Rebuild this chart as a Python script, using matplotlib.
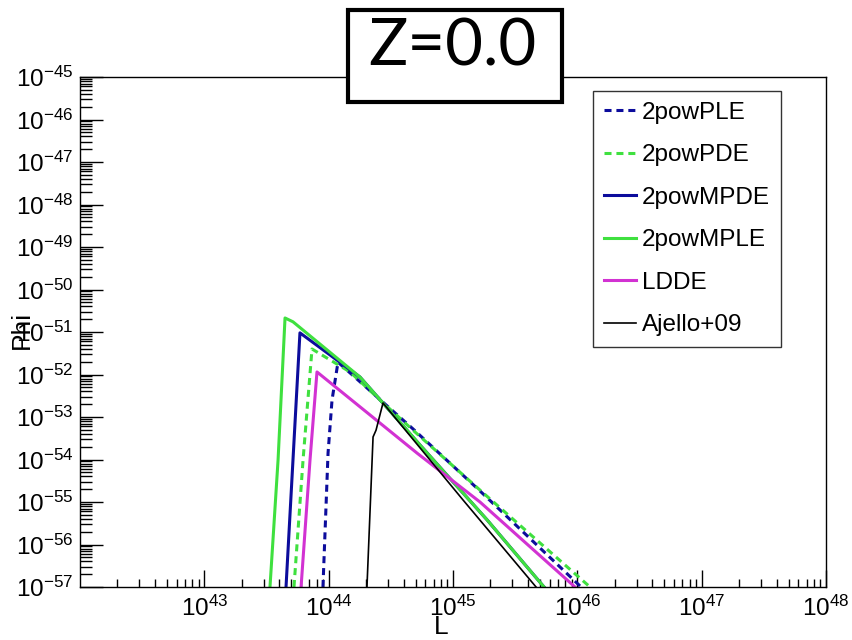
"""Phi vs L at Z=0.0 for the LF models"""
import numpy as np
import matplotlib
matplotlib.use("Agg")
import matplotlib.pyplot as plt
from matplotlib.patches import Rectangle
from matplotlib.ticker import LogLocator, NullFormatter

plt.rcParams['font.family'] = ['Liberation Sans', 'DejaVu Sans']
plt.rcParams['mathtext.fontset'] = 'custom'
plt.rcParams['mathtext.rm'] = 'Liberation Sans'
plt.rcParams['mathtext.it'] = 'Liberation Sans'

# log10 values
logL_ple = [43.954, 43.995, 44.027, 44.075, 44.678, 45.217, 46.030]
logPhi_ple = [-57.0, -53.85, -52.60, -51.71, -53.28, -54.74, -57.0]

logL_pde = [43.721, 43.794, 43.866, 44.172, 44.413, 44.678, 45.217, 46.102]
logPhi_pde = [-57.0, -54.01, -51.40, -51.94, -52.60, -53.31, -54.72, -57.0]

logL_mpde = [43.657, 43.713, 43.769, 44.252, 44.735, 45.274, 45.732]
logPhi_mpde = [-57.0, -54.01, -51.02, -52.06, -53.66, -55.42, -57.0]

logL_mple = [43.528, 43.593, 43.649, 43.713, 44.252, 44.735, 45.274, 45.732]
logPhi_mple = [-57.0, -54.01, -50.67, -50.76, -52.06, -53.66, -55.42, -57.0]

logL_ldde = [43.778, 43.850, 43.906, 44.711, 45.217, 45.981]
logPhi_ldde = [-57.0, -54.01, -51.94, -53.85, -55.0, -57.0]

logL_aj = [44.308, 44.357, 44.381, 44.437, 45.080, 45.668]
logPhi_aj = [-57.0, -53.47, -53.31, -52.67, -54.95, -57.0]

blue = "#0c0c9c"
green = "#3fe03f"
magenta = "#d232d2"
dash = (2.3, 1.6)

fig = plt.figure(figsize=(8.52, 6.4), dpi=100)
ax = fig.add_axes([80 / 852, 1 - 587 / 640, 746 / 852, 510 / 640])

def p(a):
    return 10.0 ** np.array(a, dtype=float)

ax.plot(p(logL_ple), p(logPhi_ple), color=blue, lw=2.2, dashes=dash, label="2powPLE")
ax.plot(p(logL_pde), p(logPhi_pde), color=green, lw=2.2, dashes=dash, label="2powPDE")
ax.plot(p(logL_mpde), p(logPhi_mpde), color=blue, lw=2.2, label="2powMPDE")
ax.plot(p(logL_mple), p(logPhi_mple), color=green, lw=2.2, label="2powMPLE")
ax.plot(p(logL_ldde), p(logPhi_ldde), color=magenta, lw=2.2, label="LDDE")
ax.plot(p(logL_aj), p(logPhi_aj), color="black", lw=1.2, label="Ajello+09")

ax.set_xscale("log")
ax.set_yscale("log")
ax.set_xlim(1e42, 1e48)
ax.set_ylim(1e-57, 1e-45)

ax.xaxis.set_minor_locator(LogLocator(base=10, subs=np.arange(2, 10), numticks=50))
ax.xaxis.set_minor_formatter(NullFormatter())
ax.yaxis.set_minor_locator(LogLocator(base=10, subs=np.arange(2, 10), numticks=100))
ax.yaxis.set_minor_formatter(NullFormatter())

ax.tick_params(axis="x", which="major", direction="in", length=12, width=1, labelsize=17.5, pad=6, top=False)
ax.tick_params(axis="x", which="minor", direction="in", length=6, width=1, top=False)
ax.tick_params(axis="y", which="major", direction="in", length=16.5, width=1, labelsize=17.5, pad=5, right=False)
ax.tick_params(axis="y", which="minor", direction="in", length=8.5, width=1, right=False)
ax.set_xticks(p(np.arange(43, 49)))
ax.set_yticks(p(np.arange(-57, -44)))
for s in ax.spines.values():
    s.set_linewidth(1.0)

fig.text(22 / 852, 1 - 330 / 640, "Phi", rotation=90, ha="center", va="center", fontsize=19)
fig.text(441 / 852, 1 - 627 / 640, "L", ha="center", va="center", fontsize=19)

leg = ax.legend(loc="upper left", bbox_to_anchor=(593 / 852, 1 - 91 / 640),
                bbox_transform=fig.transFigure, fontsize=17.5, handlelength=1.3,
                handletextpad=0.25, labelspacing=0.84, borderpad=0.45,
                borderaxespad=0, fancybox=False, framealpha=1)
leg.get_frame().set_edgecolor("#333333")
leg.get_frame().set_linewidth(1.0)

# title box
box = Rectangle((348 / 852, 1 - 102 / 640), 214 / 852, 92 / 640, transform=fig.transFigure,
                facecolor="white", edgecolor="black", lw=3, zorder=10)
fig.add_artist(box)
fig.text(452 / 852, 1 - 47 / 640, "Z=0.0", ha="center", va="center", fontsize=47,
         family="Lato", zorder=11)

fig.savefig("out.png", dpi=100)
